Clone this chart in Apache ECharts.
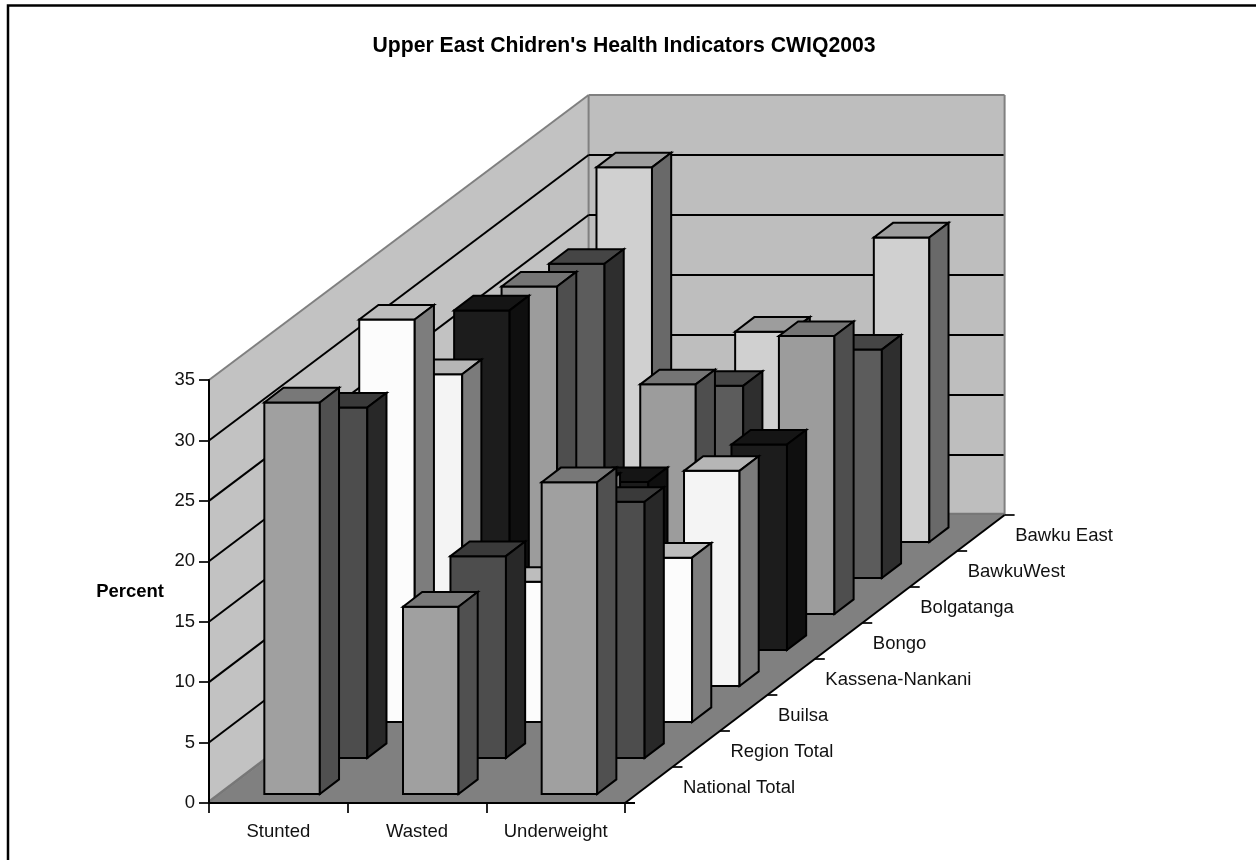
<!DOCTYPE html>
<html>
<head>
<meta charset="utf-8">
<style>html,body{margin:0;padding:0;background:#fff}#c{width:1256px;height:860px}</style>
<script src="https://cdn.jsdelivr.net/npm/echarts@6/dist/echarts.min.js"></script>
</head>
<body>
<div id="c"></div>
<script>
// --- data ---
const indicators = ['Stunted', 'Wasted', 'Underweight'];
const yTicks = [0, 5, 10, 15, 20, 25, 30, 35];
const places = ['National Total', 'Region Total', 'Builsa', 'Kassena-Nankani', 'Bongo', 'Bolgatanga', 'BawkuWest', 'Bawku East'];
const nationalTotal = [32.4, 15.5, 25.8];
const regionTotal = [29.0, 16.7, 21.2];
const builsa = [33.3, 11.6, 13.6];
const kassenaNankani = [25.8, 16.4, 17.8];
const bongo = [28.1, 13.9, 17.0];
const bolgatanga = [27.1, 19.0, 23.0];
const bawkuWest = [26.0, 15.9, 18.9];
const bawkuEast = [31.0, 17.4, 25.2];
const rows = [nationalTotal, regionTotal, builsa, kassenaNankani, bongo, bolgatanga, bawkuWest, bawkuEast];

// --- styles and oblique projection ---
const faceColors = ['#a0a0a0', '#4d4d4d', '#fcfcfc', '#f4f4f4', '#1c1c1c', '#9c9c9c', '#5c5c5c', '#d0d0d0'];
const topColors = ['#787878', '#3a3a3a', '#bdbdbd', '#b6b6b6', '#151515', '#757575', '#454545', '#9d9d9d'];
const sideColors = ['#505050', '#282828', '#7d7d7d', '#7b7b7b', '#0f0f0f', '#4e4e4e', '#2e2e2e', '#696969'];
const FONT = '"Liberation Sans", Arial, sans-serif';
const LABEL_SIZE = 18.5;
const ROW_DX = 47.45, ROW_DY = 36;          // shift per depth row
const N = places.length;
const DEPTH_X = ROW_DX * N, DEPTH_Y = ROW_DY * N;
const BAR_LEFT = -14, BAR_W = 55.5;         // from band centre, row 0
const BAR_FRONT = 9;                        // front face lift on the floor, row 0
const BAR_DX = 19.2, BAR_DY = 14.6;         // depth of one bar
const BLACK = '#000', EDGE = '#808080', LW = 2;

function backShift(v) { return v / 35 * 3; } // back wall is slightly shorter

function polygon(points, fill, stroke, width) {
  return { type: 'polygon', shape: { points }, style: { fill, stroke: stroke || 'none', lineWidth: width || 0, lineJoin: 'miter' } };
}
function line(a, b, stroke, width) {
  return { type: 'line', shape: { x1: a[0], y1: a[1], x2: b[0], y2: b[1] }, style: { stroke, lineWidth: width } };
}
function frameOf(api) {
  const half = api.size([1, 0])[0] / 2;
  const o = api.coord([0, 0]), top = api.coord([0, 35]), end = api.coord([indicators.length - 1, 0]);
  return { x0: o[0] - half, x1: end[0] + half, y0: o[1], yTop: top[1] };
}

const wallSeries = {
  type: 'custom', silent: true, clip: false, data: [[0, 0]],
  renderItem(p, api) {
    const f = frameOf(api);
    const bx0 = f.x0 + DEPTH_X, bx1 = f.x1 + DEPTH_X, by0 = f.y0 - DEPTH_Y, byT = f.yTop - DEPTH_Y + backShift(35);
    return { type: 'group', children: [
      polygon([[f.x0, f.yTop], [bx0, byT], [bx0, by0], [f.x0, f.y0]], '#c2c2c2'),
      polygon([[bx0, byT], [bx1, byT], [bx1, by0], [bx0, by0]], '#bebebe'),
      line([f.x0, f.yTop], [bx0, byT], EDGE, 2),
      line([bx0, byT], [bx1, byT], EDGE, 2),
      line([bx0, byT], [bx0, by0], EDGE, 2),
      line([bx1, byT], [bx1, by0], EDGE, 2)
    ] };
  }
};
const gridSeries = {
  type: 'custom', silent: true, clip: false, data: yTicks.slice(1, -1).map(v => [0, v]),
  renderItem(p, api) {
    const f = frameOf(api), v = api.value(1), y = api.coord([0, v])[1];
    const bx = f.x0 + DEPTH_X, by = y - DEPTH_Y + backShift(v);
    return { type: 'group', children: [
      line([f.x0, y], [bx, by], BLACK, 2),
      line([bx, by], [f.x1 + DEPTH_X - 1, by], BLACK, 2)
    ] };
  }
};
const floorSeries = {
  type: 'custom', silent: true, clip: false, data: [[0, 0]],
  renderItem(p, api) {
    const f = frameOf(api);
    const bx0 = f.x0 + DEPTH_X, bx1 = f.x1 + DEPTH_X, by = f.y0 - DEPTH_Y;
    return { type: 'group', children: [
      line([bx0, by - 1], [bx1, by - 1], '#777', 2.5),
      line([f.x0, f.y0 - 1], [bx0 , by - 1], '#777', 3),
      polygon([[f.x0, f.y0], [f.x1, f.y0], [bx1, by], [bx0 + 3, by]], '#808080'),
      line([f.x0, f.y0 - 423], [f.x0, f.y0], BLACK, 2),
      line([f.x1, f.y0], [bx1, by], BLACK, 2)
    ] };
  }
};
function barSeries(row) {
  return {
    type: 'custom', name: places[row], silent: true, clip: false,
    data: rows[row].map((v, k) => [k, v]),
    renderItem(p, api) {
      const k = api.value(0), v = api.value(1);
      const c = api.coord([k, 0]), t = api.coord([k, v]);
      const x0 = c[0] + BAR_LEFT + ROW_DX * row, x1 = x0 + BAR_W;
      const yb = c[1] - BAR_FRONT - ROW_DY * row, yt = yb - (c[1] - t[1]);
      return { type: 'group', children: [
        polygon([[x0, yt], [x1, yt], [x1, yb], [x0, yb]], faceColors[row], BLACK, LW),
        polygon([[x0, yt], [x0 + BAR_DX, yt - BAR_DY], [x1 + BAR_DX, yt - BAR_DY], [x1, yt]], topColors[row], BLACK, LW),
        polygon([[x1, yt], [x1 + BAR_DX, yt - BAR_DY], [x1 + BAR_DX, yb - BAR_DY], [x1, yb]], sideColors[row], BLACK, LW)
      ] };
    }
  };
}
const depthAxisSeries = {
  type: 'custom', silent: true, clip: false,
  data: places.map((name, i) => [i, 0]),
  renderItem(p, api) {
    const i = api.value(0), half = api.size([1, 0])[0] / 2;
    const e = api.coord([indicators.length - 1, 0]);
    const fx = e[0] + half, fy = e[1];
    const children = [{
      type: 'text',
      style: { x: fx + 58 + ROW_DX * i, y: fy - 15 - ROW_DY * i, text: places[i], fill: '#111', font: LABEL_SIZE + 'px ' + FONT, textAlign: 'left', textVerticalAlign: 'middle' }
    }];
    children.push(line([fx + ROW_DX * (i + 1), fy - ROW_DY * (i + 1)], [fx + ROW_DX * (i + 1) + 10, fy - ROW_DY * (i + 1)], BLACK, 1.7));
    children.push(line([fx, fy], [fx + 10, fy], BLACK, 1.7));
    return { type: 'group', children };
  }
};

const chart = echarts.init(document.getElementById('c'), null, { renderer: 'canvas' });
const rowSeries = [];
for (let r = N - 1; r >= 0; r--) rowSeries.push(barSeries(r));
chart.setOption({
  animation: false,
  backgroundColor: '#fff',
  title: { text: "Upper East Chidren's Health Indicators CWIQ2003", left: 619, top: 31, textAlign: 'center',
    textStyle: { fontFamily: FONT, fontWeight: 'bold', fontSize: 21.2, color: '#000' } },
  grid: { left: 209, top: 380, width: 416, height: 423, containLabel: false },
  xAxis: {
    type: 'category', data: indicators, z: 10,
    axisLine: { show: true, lineStyle: { color: BLACK, width: 2 } },
    axisTick: { show: true, alignWithLabel: false, length: 10, lineStyle: { color: BLACK, width: 1.7 } },
    axisLabel: { color: '#111', fontFamily: FONT, fontSize: LABEL_SIZE, margin: 19 },
    splitLine: { show: false }
  },
  yAxis: {
    type: 'value', min: 0, max: 35, interval: 5, z: 10,
    name: 'Percent', nameLocation: 'middle', nameRotate: 0, nameGap: 45,
    nameTextStyle: { color: '#000', fontFamily: FONT, fontWeight: 'bold', fontSize: LABEL_SIZE, padding: [6, 0, 0, 0] },
    axisLine: { show: true, lineStyle: { color: BLACK, width: 2 } },
    axisTick: { show: true, length: 10, lineStyle: { color: BLACK, width: 1.7 } },
    axisLabel: { color: '#111', fontFamily: FONT, fontSize: LABEL_SIZE, margin: 14, padding: [4, 0, 0, 0] },
    splitLine: { show: false }
  },
  graphic: [{
    type: 'polyline', silent: true, z: 0,
    shape: { points: [[8, 860], [8, 5.5], [1256, 5.5]] },
    style: { stroke: BLACK, fill: 'none', lineWidth: 2.5 }
  }],
  series: [wallSeries, gridSeries, floorSeries].concat(rowSeries, [depthAxisSeries])
});
</script>
</body>
</html>
